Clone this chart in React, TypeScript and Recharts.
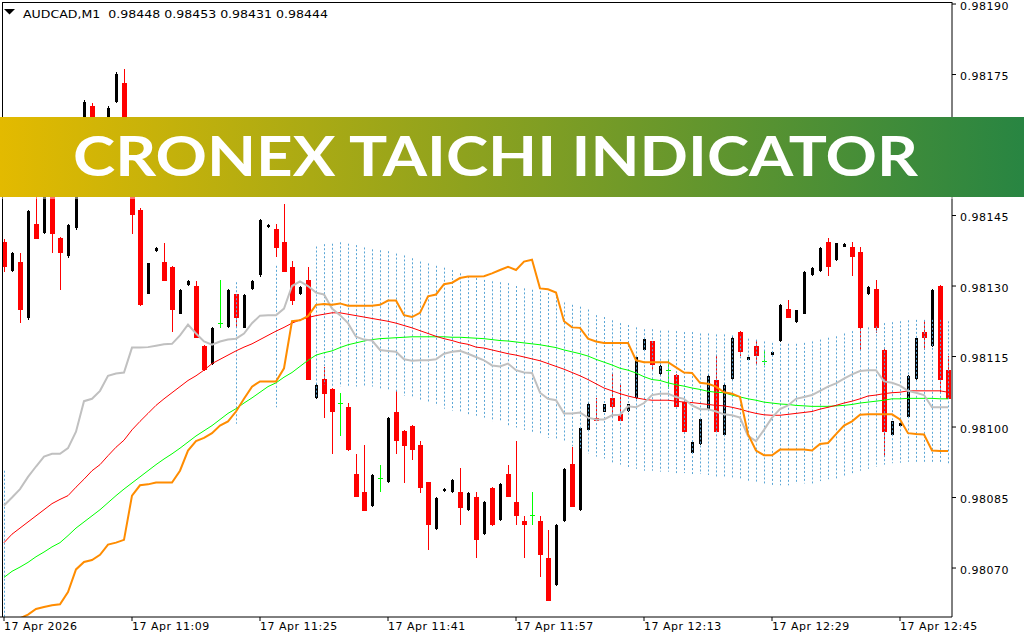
import React from 'react';
import { ComposedChart, Bar, Line, XAxis, YAxis } from 'recharts';

const FONT = '"DejaVu Sans", Verdana, sans-serif';

// ---------- categories (1-minute bars, 17 Apr, from 10:53) ----------
const TIMES: string[] = [];
for (let i = 0; i < 119; i++) {
  const m = 10 * 60 + 53 + i;
  TIMES.push(`${Math.floor(m / 60)}:${String(m % 60).padStart(2, '0')}`);
}
const X_TICKS = ['10:53', '11:09', '11:25', '11:41', '11:57', '12:13', '12:29', '12:45'];
const X_TICK_LABELS = ['17 Apr 2026', '17 Apr 11:09', '17 Apr 11:25', '17 Apr 11:41', '17 Apr 11:57', '17 Apr 12:13', '17 Apr 12:29', '17 Apr 12:45'];
const Y_TICKS = [0.9807, 0.98085, 0.981, 0.98115, 0.9813, 0.98145, 0.9816, 0.98175, 0.9819];
const Y_DOMAIN: [number, number] = [0.9805958, 0.9819043];

const TITLE = 'AUDCAD,M1  0.98448 0.98453 0.98431 0.98444';
const BANNER = 'CRONEX TAICHI INDICATOR';

// ---------- OHLC ----------
const OPEN = [0.981394, 0.981333, 0.981352, 0.981233, 0.981432, 0.981413, 0.981510, 0.981402, 0.981364, 0.981424,
  0.981550, 0.981682, 0.981580, 0.981600, 0.981692, 0.981733, 0.981550, 0.981461, 0.981284, 0.981374,
  0.981352, 0.981341, 0.981241, 0.981302, 0.981301, 0.981173, 0.981134, 0.981221, 0.981212, 0.981282,
  0.981211, 0.981293, 0.981323, 0.981425, 0.981422, 0.981393, 0.981341, 0.981282, 0.981312, 0.981062,
  0.981103, 0.981080, 0.981051, 0.981042, 0.980901, 0.980861, 0.980832, 0.980891, 0.980882, 0.981032,
  0.980992, 0.981002, 0.980961, 0.980882, 0.980782, 0.980863, 0.980861, 0.980861, 0.980824, 0.980852,
  0.980772, 0.980870, 0.980802, 0.980901, 0.980841, 0.980800, 0.980813, 0.980800, 0.980722, 0.980663,
  0.980800, 0.980922, 0.980824, 0.980994, 0.981020, 0.981033, 0.981062, 0.981027, 0.981035, 0.981062,
  0.981164, 0.981182, 0.981112, 0.981122, 0.981110, 0.981053, 0.980944, 0.980963, 0.981038, 0.981101,
  0.980984, 0.981103, 0.981202, 0.981143, 0.981173, 0.981141, 0.981153, 0.981182, 0.981252, 0.981223,
  0.981241, 0.981323, 0.981332, 0.981393, 0.981355, 0.981383, 0.981382, 0.981372, 0.981282, 0.981293,
  0.981163, 0.980984, 0.981003, 0.981022, 0.981103, 0.981202, 0.981173, 0.981301, 0.981121];

const HIGH = [0.981400, 0.981372, 0.981371, 0.981462, 0.981500, 0.981530, 0.981520, 0.981405, 0.981433, 0.981560,
  0.981695, 0.981690, 0.981630, 0.981682, 0.981755, 0.981762, 0.981560, 0.981465, 0.981350, 0.981382,
  0.981392, 0.981343, 0.981293, 0.981312, 0.981310, 0.981175, 0.981212, 0.981312, 0.981293, 0.981284,
  0.981282, 0.981312, 0.981443, 0.981431, 0.981432, 0.981474, 0.981354, 0.981300, 0.981341, 0.981092,
  0.981128, 0.981082, 0.981073, 0.981051, 0.980942, 0.980961, 0.980900, 0.980920, 0.981021, 0.981077,
  0.980994, 0.981004, 0.980971, 0.980884, 0.980852, 0.980871, 0.980890, 0.980913, 0.980861, 0.980861,
  0.980842, 0.980872, 0.980881, 0.980920, 0.980971, 0.980811, 0.980861, 0.980811, 0.980780, 0.980793,
  0.980912, 0.980957, 0.981000, 0.981051, 0.981062, 0.981050, 0.981112, 0.981090, 0.981050, 0.981152,
  0.981190, 0.981184, 0.981132, 0.981143, 0.981112, 0.981055, 0.980970, 0.981020, 0.981110, 0.981153,
  0.981092, 0.981192, 0.981204, 0.981150, 0.981182, 0.981164, 0.981161, 0.981262, 0.981271, 0.981250,
  0.981332, 0.981340, 0.981382, 0.981402, 0.981392, 0.981391, 0.981393, 0.981382, 0.981300, 0.981313,
  0.981165, 0.981013, 0.981010, 0.981110, 0.981190, 0.981225, 0.981293, 0.981302, 0.981151];

const LOW = [0.981330, 0.981330, 0.981221, 0.981228, 0.981400, 0.981410, 0.981370, 0.981291, 0.981360, 0.981420,
  0.981540, 0.981570, 0.981560, 0.981595, 0.981690, 0.981490, 0.981411, 0.981258, 0.981282, 0.981372,
  0.981310, 0.981202, 0.981240, 0.981300, 0.981190, 0.981120, 0.981132, 0.981210, 0.981210, 0.981212,
  0.981210, 0.981291, 0.981320, 0.981424, 0.981361, 0.981330, 0.981260, 0.981280, 0.981101, 0.981060,
  0.981020, 0.980942, 0.980981, 0.980950, 0.980852, 0.980821, 0.980830, 0.980861, 0.980880, 0.980942,
  0.980881, 0.980929, 0.980859, 0.980739, 0.980780, 0.980861, 0.980860, 0.980791, 0.980822, 0.980721,
  0.980770, 0.980790, 0.980800, 0.980851, 0.980791, 0.980721, 0.980791, 0.980680, 0.980630, 0.980661,
  0.980798, 0.980830, 0.980822, 0.980992, 0.981012, 0.981031, 0.981020, 0.981012, 0.981033, 0.981060,
  0.981162, 0.981122, 0.981110, 0.981081, 0.981042, 0.980990, 0.980942, 0.980961, 0.981036, 0.980990,
  0.980982, 0.981101, 0.981151, 0.981142, 0.981131, 0.981131, 0.981152, 0.981180, 0.981232, 0.981221,
  0.981240, 0.981322, 0.981330, 0.981321, 0.981353, 0.981382, 0.981321, 0.981162, 0.981280, 0.981199,
  0.980936, 0.980982, 0.981002, 0.981020, 0.981101, 0.981163, 0.981171, 0.981074, 0.981060];

const CLOSE = [0.981341, 0.981370, 0.981250, 0.981459, 0.981400, 0.981520, 0.981411, 0.981370, 0.981430, 0.981550,
  0.981691, 0.981580, 0.981620, 0.981679, 0.981751, 0.981500, 0.981452, 0.981260, 0.981349, 0.981380,
  0.981311, 0.981250, 0.981291, 0.981310, 0.981190, 0.981121, 0.981210, 0.981221, 0.981291, 0.981232,
  0.981280, 0.981310, 0.981441, 0.981430, 0.981381, 0.981330, 0.981269, 0.981298, 0.981101, 0.981090,
  0.981071, 0.981031, 0.981051, 0.980951, 0.980852, 0.980821, 0.980898, 0.980891, 0.981019, 0.980970,
  0.980959, 0.980951, 0.980870, 0.980791, 0.980850, 0.980869, 0.980888, 0.980828, 0.980859, 0.980759,
  0.980840, 0.980791, 0.980879, 0.980852, 0.980811, 0.980791, 0.980813, 0.980728, 0.980630, 0.980791,
  0.980910, 0.980830, 0.980998, 0.981049, 0.981012, 0.981048, 0.981042, 0.981012, 0.981048, 0.981150,
  0.981188, 0.981132, 0.981130, 0.981122, 0.981042, 0.980990, 0.980968, 0.981018, 0.981108, 0.980990,
  0.981090, 0.981190, 0.981160, 0.981149, 0.981151, 0.981141, 0.981160, 0.981260, 0.981232, 0.981249,
  0.981330, 0.981339, 0.981380, 0.981341, 0.981391, 0.981390, 0.981361, 0.981210, 0.981298, 0.981210,
  0.980990, 0.981012, 0.981009, 0.981109, 0.981189, 0.981190, 0.981291, 0.981101, 0.981060];

// ---------- indicator lines ----------
const RED_MA = [0.980754, 0.980772, 0.980785, 0.980798, 0.980811, 0.980824, 0.980837, 0.980846, 0.980854, 0.980872,
  0.980889, 0.980907, 0.980920, 0.980939, 0.980957, 0.980972, 0.980994, 0.981012, 0.981029, 0.981046,
  0.981060, 0.981073, 0.981086, 0.981099, 0.981109, 0.981121, 0.981135, 0.981144, 0.981153, 0.981162,
  0.981170, 0.981177, 0.981186, 0.981195, 0.981204, 0.981212, 0.981221, 0.981228, 0.981233, 0.981237,
  0.981240, 0.981243, 0.981243, 0.981240, 0.981237, 0.981234, 0.981231, 0.981228, 0.981225, 0.981221,
  0.981216, 0.981211, 0.981205, 0.981199, 0.981193, 0.981188, 0.981184, 0.981179, 0.981176, 0.981170,
  0.981168, 0.981164, 0.981160, 0.981156, 0.981153, 0.981149, 0.981145, 0.981141, 0.981135, 0.981129,
  0.981123, 0.981116, 0.981109, 0.981101, 0.981092, 0.981083, 0.981077, 0.981071, 0.981066, 0.981062,
  0.981059, 0.981057, 0.981057, 0.981057, 0.981055, 0.981053, 0.981052, 0.981050, 0.981048, 0.981046,
  0.981045, 0.981042, 0.981038, 0.981033, 0.981029, 0.981026, 0.981025, 0.981025, 0.981027, 0.981029,
  0.981031, 0.981033, 0.981038, 0.981042, 0.981046, 0.981051, 0.981055, 0.981060, 0.981066, 0.981068,
  0.981071, 0.981073, 0.981074, 0.981077, 0.981077, 0.981077, 0.981077, 0.981077, 0.981074];

const GREEN_MA = [0.980680, 0.980693, 0.980702, 0.980712, 0.980724, 0.980734, 0.980745, 0.980754, 0.980769, 0.980785,
  0.980798, 0.980811, 0.980824, 0.980839, 0.980854, 0.980868, 0.980881, 0.980894, 0.980907, 0.980920,
  0.980932, 0.980943, 0.980955, 0.980968, 0.980981, 0.980992, 0.981003, 0.981016, 0.981029, 0.981039,
  0.981051, 0.981062, 0.981074, 0.981086, 0.981094, 0.981106, 0.981116, 0.981129, 0.981142, 0.981153,
  0.981158, 0.981162, 0.981169, 0.981175, 0.981179, 0.981183, 0.981186, 0.981188, 0.981189, 0.981190,
  0.981191, 0.981192, 0.981192, 0.981192, 0.981192, 0.981192, 0.981191, 0.981191, 0.981190, 0.981189,
  0.981188, 0.981186, 0.981184, 0.981183, 0.981181, 0.981179, 0.981177, 0.981175, 0.981172, 0.981169,
  0.981164, 0.981160, 0.981156, 0.981151, 0.981144, 0.981138, 0.981132, 0.981125, 0.981121, 0.981115,
  0.981107, 0.981101, 0.981099, 0.981094, 0.981090, 0.981087, 0.981083, 0.981080, 0.981076, 0.981074,
  0.981073, 0.981068, 0.981064, 0.981060, 0.981057, 0.981053, 0.981051, 0.981049, 0.981048, 0.981046,
  0.981045, 0.981044, 0.981044, 0.981044, 0.981045, 0.981046, 0.981048, 0.981051, 0.981053, 0.981055,
  0.981057, 0.981060, 0.981060, 0.981061, 0.981061, 0.981061, 0.981061, 0.981060, 0.981060];

const GRAY_LINE = [0.980833, 0.980850, 0.980868, 0.980894, 0.980916, 0.980937, 0.980943, 0.980943, 0.980955, 0.980990,
  0.981055, 0.981060, 0.981077, 0.981109, 0.981114, 0.981116, 0.981169, 0.981169, 0.981170, 0.981173,
  0.981176, 0.981177, 0.981195, 0.981218, 0.981199, 0.981182, 0.981175, 0.981182, 0.981186, 0.981188,
  0.981199, 0.981221, 0.981237, 0.981238, 0.981238, 0.981252, 0.981300, 0.981310, 0.981300, 0.981286,
  0.981282, 0.981252, 0.981238, 0.981221, 0.981192, 0.981186, 0.981184, 0.981164, 0.981162, 0.981160,
  0.981144, 0.981141, 0.981142, 0.981142, 0.981144, 0.981156, 0.981160, 0.981162, 0.981156, 0.981149,
  0.981142, 0.981131, 0.981129, 0.981135, 0.981121, 0.981116, 0.981115, 0.981073, 0.981060, 0.981057,
  0.981029, 0.981029, 0.981031, 0.981020, 0.981016, 0.981016, 0.981025, 0.981026, 0.981044, 0.981042,
  0.981051, 0.981068, 0.981071, 0.981071, 0.981064, 0.981060, 0.981046, 0.981038, 0.981038, 0.981033,
  0.981027, 0.981025, 0.981020, 0.980981, 0.980970, 0.980994, 0.981020, 0.981038, 0.981046, 0.981060,
  0.981064, 0.981068, 0.981077, 0.981086, 0.981093, 0.981103, 0.981112, 0.981119, 0.981121, 0.981121,
  0.981097, 0.981094, 0.981088, 0.981077, 0.981073, 0.981068, 0.981042, 0.981042, 0.981042];

const ORANGE_LINE = [0.980566, 0.980580, 0.980593, 0.980601, 0.980613, 0.980617, 0.980621, 0.980623, 0.980649, 0.980697,
  0.980713, 0.980717, 0.980728, 0.980750, 0.980754, 0.980760, 0.980854, 0.980876, 0.980878, 0.980882,
  0.980882, 0.980882, 0.980907, 0.980950, 0.980970, 0.980977, 0.980987, 0.981003, 0.981012, 0.981033,
  0.981060, 0.981086, 0.981097, 0.981097, 0.981097, 0.981125, 0.981225, 0.981227, 0.981236, 0.981260,
  0.981262, 0.981260, 0.981263, 0.981258, 0.981258, 0.981258, 0.981258, 0.981260, 0.981269, 0.981269,
  0.981238, 0.981234, 0.981243, 0.981278, 0.981282, 0.981304, 0.981307, 0.981317, 0.981320, 0.981320,
  0.981321, 0.981327, 0.981334, 0.981341, 0.981334, 0.981352, 0.981356, 0.981295, 0.981293, 0.981286,
  0.981225, 0.981212, 0.981211, 0.981188, 0.981182, 0.981179, 0.981179, 0.981179, 0.981179, 0.981142,
  0.981138, 0.981138, 0.981138, 0.981138, 0.981127, 0.981116, 0.981115, 0.981094, 0.981092, 0.981086,
  0.981074, 0.981071, 0.981064, 0.980985, 0.980950, 0.980940, 0.980940, 0.980952, 0.980952, 0.980952,
  0.980952, 0.980950, 0.980964, 0.980966, 0.980985, 0.981003, 0.981012, 0.981026, 0.981027, 0.981027,
  0.981027, 0.981027, 0.981016, 0.980987, 0.980985, 0.980984, 0.980950, 0.980949, 0.980949];

// ---------- cloud (dashed histogram between two buffers) ----------
const CLOUD_UP: (number | null)[] = [0.980907,
  null, null, null, null, null, null, null, null, null, null, null, null, null, null,
  null, null, null, null, null, null, null, null, null, null, null, null, null, null,
  0.981308, null, null, null, null, 0.981343, null, null, null, null, 0.981384,
  0.981389, 0.981390, 0.981393, 0.981390, 0.981387, 0.981382, 0.981378, 0.981376, 0.981374, 0.981369,
  0.981365, 0.981359, 0.981352, 0.981348, 0.981343, 0.981339, 0.981334, 0.981327, 0.981321, 0.981317,
  0.981313, 0.981310, 0.981308, 0.981306, 0.981300, 0.981295, 0.981292, 0.981289, 0.981285, 0.981278,
  0.981265, 0.981260, 0.981256, 0.981250, 0.981238, 0.981234, 0.981227, 0.981221, 0.981217, 0.981212,
  0.981208, 0.981208, 0.981205, 0.981205, 0.981204, 0.981202, 0.981202, 0.981199, 0.981199, 0.981197,
  0.981197, 0.981195, 0.981193, 0.981188, 0.981186, 0.981182, 0.981179, 0.981177, 0.981177, 0.981177,
  0.981179, 0.981182, 0.981186, 0.981190, 0.981193, 0.981199, 0.981204, 0.981208, 0.981212, 0.981214,
  0.981221, 0.981223, 0.981225, 0.981227, 0.981228, 0.981228, 0.981228, 0.981228, 0.981225];

const CLOUD_LO: (number | null)[] = [0.980500,
  null, null, null, null, null, null, null, null, null, null, null, null, null, null,
  null, null, null, null, null, null, null, null, null, null, null, null, null, null,
  0.981007, null, null, null, null, 0.981042, null, null, null, null, 0.981062,
  0.981090, 0.981086, 0.981086, 0.981086, 0.981086, 0.981086, 0.981086, 0.981081, 0.981077, 0.981073,
  0.981066, 0.981062, 0.981057, 0.981051, 0.981045, 0.981039, 0.981035, 0.981031, 0.981027, 0.981024,
  0.981020, 0.981012, 0.981012, 0.981003, 0.980999, 0.980994, 0.980990, 0.980985, 0.980977, 0.980972,
  0.980968, 0.980959, 0.980955, 0.980943, 0.980937, 0.980933, 0.980924, 0.980920, 0.980915, 0.980911,
  0.980907, 0.980907, 0.980905, 0.980905, 0.980902, 0.980902, 0.980900, 0.980900, 0.980898, 0.980894,
  0.980894, 0.980891, 0.980889, 0.980885, 0.980882, 0.980880, 0.980876, 0.980876, 0.980876, 0.980879,
  0.980880, 0.980880, 0.980885, 0.980889, 0.980889, 0.980894, 0.980900, 0.980907, 0.980911, 0.980915,
  0.980920, 0.980923, 0.980924, 0.980926, 0.980926, 0.980926, 0.980926, 0.980924, 0.980923];

const data = TIMES.map((t, i) => ({
  t,
  open: OPEN[i],
  high: HIGH[i],
  low: LOW[i],
  close: CLOSE[i],
  range: [LOW[i], HIGH[i]],
  cloud: CLOUD_UP[i] == null || CLOUD_LO[i] == null ? null : [CLOUD_LO[i], CLOUD_UP[i]],
  red: RED_MA[i],
  green: GREEN_MA[i],
  gray: GRAY_LINE[i],
  orange: ORANGE_LINE[i],
}));

function Candle(props: any) {
  const { x, y, width, height, payload } = props;
  if (!payload || y == null || height == null || isNaN(y) || isNaN(height)) return null;
  const { open, close, high, low } = payload;
  const yHigh = Math.min(y, y + height);
  const yLow = Math.max(y, y + height);
  const k = high === low ? 0 : (yLow - yHigh) / (high - low);
  const py = (v: number) => yHigh + (high - v) * k;
  const cx = Math.floor(x + width / 2);
  const wx = cx + 0.5;
  if (open === close) {
    const yy = Math.round(py(open)) + 0.5;
    return (
      <g shapeRendering="crispEdges">
        <line x1={wx} x2={wx} y1={yHigh} y2={yLow} stroke="#00ff00" strokeWidth={1} />
        <line x1={cx - 2} x2={cx + 3} y1={yy} y2={yy} stroke="#00ff00" strokeWidth={1} />
      </g>
    );
  }
  const bull = close > open;
  const color = bull ? '#000000' : '#ff0000';
  const top = py(Math.max(open, close));
  const bot = py(Math.min(open, close));
  const bw = bull ? 3 : 5;
  return (
    <g shapeRendering="crispEdges">
      <line x1={wx} x2={wx} y1={yHigh} y2={yLow} stroke={color} strokeWidth={1} />
      <rect x={cx - (bw - 1) / 2} y={top} width={bw} height={Math.max(1, bot - top)} fill={color} />
    </g>
  );
}

function CloudShape(props: any) {
  const { x, y, width, height, payload } = props;
  if (!payload || payload.cloud == null || y == null || isNaN(y) || isNaN(height)) return null;
  const wx = Math.floor(x + width / 2) + 0.5;
  const y1 = Math.min(y, y + height);
  const y2 = Math.max(y, y + height);
  return <line x1={wx} x2={wx} y1={y1} y2={y2} stroke="#5AA6D6" strokeWidth={1} strokeDasharray="2 2" />;
}

function XTick(props: any) {
  const { x, y, payload } = props;
  const idx = X_TICKS.indexOf(payload.value);
  const label = idx >= 0 ? X_TICK_LABELS[idx] : payload.value;
  return (
    <text x={x} y={y + 7} textAnchor="start" fontSize={11} fontFamily={FONT} fill="#000" letterSpacing={0.5}>
      {label}
    </text>
  );
}

function YTick(props: any) {
  const { x, y, payload } = props;
  return (
    <text x={x} y={y + 5.5} textAnchor="start" fontSize={11} fontFamily={FONT} fill="#000" letterSpacing={0.5}>
      {Number(payload.value).toFixed(5)}
    </text>
  );
}

export default function App() {
  return (
    <div style={{ position: 'absolute', left: 0, top: 0, width: 1024, height: 640, background: '#fff', overflow: 'hidden' }}>
      <ComposedChart
        width={1024}
        height={640}
        data={data}
        margin={{ top: 2, right: 0, bottom: 0, left: 0 }}
        barCategoryGap={0}
        barGap={0}
      >
        <XAxis
          dataKey="t"
          ticks={X_TICKS}
          interval={0}
          tick={<XTick />}
          tickSize={4}
          tickMargin={2}
          height={23}
          axisLine={{ stroke: '#000' }}
          tickLine={{ stroke: '#000' }}
        />
        <XAxis xAxisId="c" dataKey="t" hide />
        <YAxis
          orientation="right"
          width={72}
          domain={Y_DOMAIN}
          allowDataOverflow
          ticks={Y_TICKS}
          interval={0}
          tick={<YTick />}
          tickSize={4}
          tickMargin={4}
          axisLine={{ stroke: '#000' }}
          tickLine={{ stroke: '#000' }}
        />
        <Bar dataKey="range" shape={<Candle />} isAnimationActive={false} />
        <Bar dataKey="cloud" xAxisId="c" shape={<CloudShape />} isAnimationActive={false} />
        <Line dataKey="green" stroke="#00ff00" strokeWidth={1} dot={false} activeDot={false} isAnimationActive={false} />
        <Line dataKey="red" stroke="#ff0000" strokeWidth={1} dot={false} activeDot={false} isAnimationActive={false} />
        <Line dataKey="gray" stroke="#c0c0c0" strokeWidth={2} dot={false} activeDot={false} isAnimationActive={false} />
        <Line dataKey="orange" stroke="#ff8c00" strokeWidth={2} dot={false} activeDot={false} isAnimationActive={false} />
      </ComposedChart>
      <svg width={1024} height={640} style={{ position: 'absolute', left: 0, top: 0, pointerEvents: 'none' }}>
        <defs>
          <linearGradient id="bannerGrad" x1="0" x2="1" y1="0" y2="0">
            <stop offset="0" stopColor="#E3BA00" />
            <stop offset="1" stopColor="#288542" />
          </linearGradient>
        </defs>
        <line x1={2.5} x2={2.5} y1={2} y2={617} stroke="#000" strokeWidth={1} />
        <line x1={2} x2={952} y1={2.5} y2={2.5} stroke="#000" strokeWidth={1} />
        <polygon points="4,9 15,9 9.5,14.5" fill="#000" />
        <text x={23} y={18} fontSize={11} fontFamily={FONT} fill="#000" textLength={305} lengthAdjust="spacingAndGlyphs" style={{ whiteSpace: 'pre' }}>
          {TITLE}
        </text>
        <rect x={0} y={117} width={1024} height={80} fill="url(#bannerGrad)" />
        <rect x={0} y={197} width={1024} height={2} fill="#ffffff" opacity={0.45} />
        <text x={73} y={176} fontSize={56} fontWeight={700} fontFamily="Lato, 'Open Sans', sans-serif" fill="#ffffff" textLength={845} lengthAdjust="spacingAndGlyphs">
          {BANNER}
        </text>
      </svg>
    </div>
  );
}
